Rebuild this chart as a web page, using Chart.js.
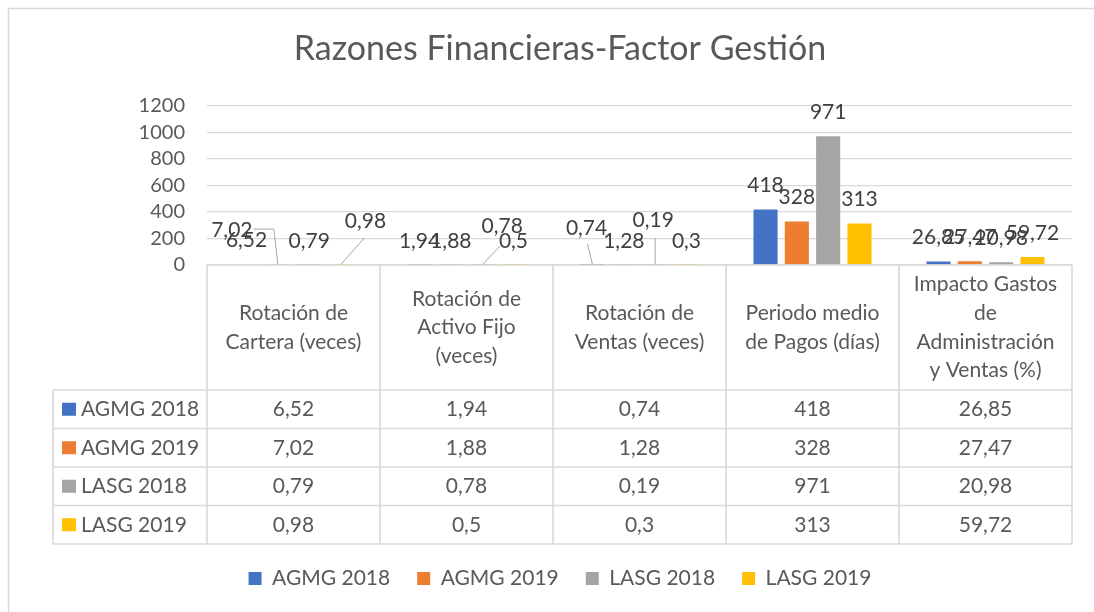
<!DOCTYPE html>
<html><head><meta charset="utf-8">
<script src="https://cdn.jsdelivr.net/npm/chart.js@4"></script>
<style>html,body{margin:0;padding:0;background:#fff;} canvas{display:block;}</style>
</head><body>
<canvas id="c" width="1094" height="612"></canvas>
<script>
// ---- data ----
const categories = [
  ["Rotación de", "Cartera (veces)"],
  ["Rotación de", "Activo Fijo", "(veces)"],
  ["Rotación de", "Ventas (veces)"],
  ["Periodo medio", "de Pagos (días)"],
  ["Impacto Gastos", "de", "Administración", "y Ventas (%)"]
];
const seriesNames = ["AGMG 2018", "AGMG 2019", "LASG 2018", "LASG 2019"];
const agmg2018 = [6.52, 1.94, 0.74, 418, 26.85];
const agmg2019 = [7.02, 1.88, 1.28, 328, 27.47];
const lasg2018 = [0.79, 0.78, 0.19, 971, 20.98];
const lasg2019 = [0.98, 0.5, 0.3, 313, 59.72];
const yTickValues = [0, 200, 400, 600, 800, 1000, 1200];
const chartTitle = "Razones Financieras-Factor Gestión";

// ---- styles ----
const F = "Lato";
const FS = 21;
const colors = ["#4472C4", "#ED7D31", "#A5A5A5", "#FFC000"];
const textGray = "#595959";
const lineGray = "#d9d9d9";
const fmt = v => String(v).replace('.', ',');

// label displacements (Excel-style avoidance) keyed "dataset-index"
const labelShift = {
  "1-0": {dx: -46, dy: -10, leader: [[22, -1], [42, -1]]},
  "3-0": {dx: 25, dy: -20, leader: [[-1, 17]]},
  "2-1": {dx: 20, dy: -15, leader: [[-2, 20]]},
  "0-2": {dx: -6, dy: -13, leader: [[1, 16]]},
  "2-2": {dx: -2, dy: -21, leader: [[2, 18]]}
};

const seriesData = [agmg2018, agmg2019, lasg2018, lasg2019];

const tablePlugin = {
  id: 'tablePlugin',
  beforeDraw(chart) {
    const c = chart.ctx;
    c.save();
    c.fillStyle = '#fff';
    c.fillRect(0, 0, chart.width, chart.height);
    c.strokeStyle = lineGray;
    c.lineWidth = 1.5;
    c.strokeRect(8.5, 8.5, chart.width + 20, chart.height + 20);
    c.restore();
  },
  afterDraw(chart) {
    const c = chart.ctx;
    const area = chart.chartArea;
    const n = categories.length;
    const cw = (area.right - area.left) / n;
    const headerH = 125;
    const rowH = 38.5;
    const top = area.bottom;
    const hb = top + headerH;
    const bottom = hb + rowH * seriesNames.length;
    const labelLeft = 53;
    c.save();
    // ---- data labels ----
    c.font = FS + "px " + F;
    c.fillStyle = "#404040";
    c.textAlign = 'center';
    c.textBaseline = 'middle';
    chart.data.datasets.forEach((ds, di) => {
      const meta = chart.getDatasetMeta(di);
      meta.data.forEach((bar, i) => {
        const s = labelShift[di + '-' + i];
        const lx = bar.x + (s ? s.dx : 0);
        const ly = bar.y - 24 + (s ? s.dy : 0);
        if (s) {
          c.strokeStyle = '#a6a6a6';
          c.lineWidth = 1;
          c.beginPath();
          s.leader.forEach((p, k) => {
            if (k === 0) c.moveTo(lx + p[0], ly + p[1]); else c.lineTo(lx + p[0], ly + p[1]);
          });
          c.lineTo(bar.x, bar.y);
          c.stroke();
        }
        c.fillText(fmt(ds.data[i]), lx, ly);
      });
    });
    // ---- table lines ----
    c.strokeStyle = lineGray;
    c.lineWidth = 1.6;
    c.beginPath();
    for (let k = 0; k <= n; k++) {
      const x = area.left + cw * k;
      c.moveTo(x, top); c.lineTo(x, bottom);
    }
    c.moveTo(labelLeft, hb); c.lineTo(labelLeft, bottom);
    c.moveTo(area.left, top); c.lineTo(area.right, top);
    for (let r = 0; r <= seriesNames.length; r++) {
      const y = hb + rowH * r;
      c.moveTo(labelLeft, y); c.lineTo(area.right, y);
    }
    c.stroke();
    // ---- header text ----
    c.fillStyle = textGray;
    c.font = FS + "px " + F;
    const lh = 28.7;
    categories.forEach((lines, k) => {
      const cx = area.left + cw * (k + 0.5);
      const cy = (top + hb) / 2;
      lines.forEach((t, j) => {
        c.fillText(t, cx, cy + (j - (lines.length - 1) / 2) * lh);
      });
    });
    // ---- rows ----
    seriesNames.forEach((name, r) => {
      const cy = hb + rowH * (r + 0.5);
      c.fillStyle = colors[r];
      c.fillRect(62, cy - 6.5, 14, 13);
      c.fillStyle = textGray;
      c.textAlign = 'left';
      c.fillText(name, 81, cy);
      c.textAlign = 'center';
      seriesData[r].forEach((v, k) => {
        c.fillText(fmt(v), area.left + cw * (k + 0.5), cy);
      });
    });
    c.restore();
  }
};

new Chart(document.getElementById('c'), {
  type: 'bar',
  data: {
    labels: categories,
    datasets: seriesNames.map((nm, i) => ({
      label: nm,
      data: seriesData[i],
      backgroundColor: colors[i],
      borderWidth: 0
    }))
  },
  options: {
    responsive: false,
    animation: false,
    devicePixelRatio: 1,
    layout: {padding: {left: 48, right: 22, top: 8, bottom: 13}},
    datasets: {bar: {categoryPercentage: 0.724, barPercentage: 0.77}},
    plugins: {
      title: {
        display: true, text: chartTitle, color: textGray,
        font: {family: F, size: 34, weight: 'normal'},
        padding: {top: 21, bottom: 36}
      },
      legend: {
        position: 'bottom',
        labels: {boxWidth: 13, boxHeight: 13, color: textGray, font: {family: F, size: FS}, padding: 27}
      },
      tooltip: {enabled: false}
    },
    scales: {
      x: {
        grid: {display: false}, border: {display: false}, ticks: {display: false},
        afterFit(s) { s.height = 276; }
      },
      y: {
        min: 0, max: 1200,
        afterBuildTicks(s) { s.ticks = yTickValues.map(v => ({value: v})); },
        ticks: {color: textGray, font: {family: F, size: 20}, padding: 22, autoSkip: false, callback: v => String(v)},
        grid: {color: lineGray, drawTicks: false, lineWidth: 1.3},
        border: {display: false},
        afterFit(s) { s.width = 159; }
      }
    }
  },
  plugins: [tablePlugin]
});
</script>
</body></html>
